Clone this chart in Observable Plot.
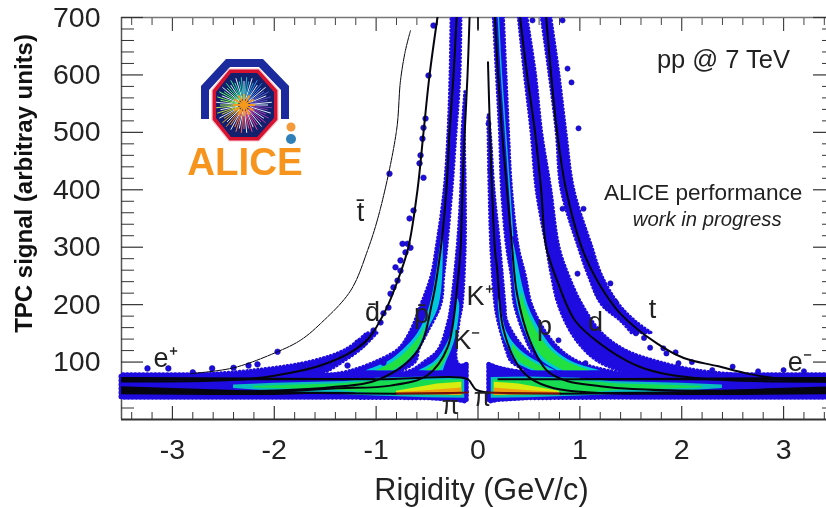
<!DOCTYPE html>
<html>
<head>
<meta charset="utf-8">
<script src="https://cdn.jsdelivr.net/npm/d3@7"></script>
<script src="https://cdn.jsdelivr.net/npm/@observablehq/plot@0.6"></script>
<style>
html,body{margin:0;padding:0;background:#fff;overflow:hidden;width:826px;height:508px}
svg{display:block;filter:blur(0.35px)}
</style>
</head>
<body>
<div id="chart"></div>
<script>
// Bands: [signal, inner rigidity, outer rigidity]
const protonBand = [[700,.155,.255],[600,.185,.28],[500,.215,.305],[400,.235,.335],[300,.285,.40],[250,.33,.47],[200,.36,.53],[150,.45,.675],[120,.525,.82],[100,.625,.99],[85,.75,1.28],[76,.9,1.7]];
const kaonBand = [[530,.10,.105],[500,.103,.125],[400,.113,.162],[300,.13,.22],[200,.17,.27],[170,.20,.29],[120,.28,.475],[100,.33,.64],[85,.476,.85],[76,.6,1.1]];
const deuteronBand = [[700,.40,.485],[600,.46,.57],[500,.525,.63],[400,.575,.72],[300,.675,.80],[250,.725,.895],[200,.79,1.025],[150,.92,1.22],[120,1.05,1.455],[100,1.185,1.78],[85,1.38,2.17],[76,1.6,2.7]];
const tritonBand = [[700,.625,.72],[600,.703,.80],[500,.772,.868],[400,.82,.945],[300,.988,1.123],[250,1.087,1.22],[200,1.215,1.387],[170,1.41,1.553],[150,1.51,1.71]];
const antiProtonBand = [[700,-.26,-.162],[600,-.27,-.172],[500,-.29,-.21],[400,-.328,-.25],[300,-.405,-.30],[250,-.455,-.33],[200,-.555,-.36],[150,-.67,-.496],[122,-.78,-.575],[101,-.995,-.605],[85,-1.24,-.74],[76,-1.5,-.9]];
const kaonMinusBand = [[570,-.125,-.12],[500,-.152,-.128],[400,-.165,-.12],[300,-.20,-.12],[200,-.26,-.15],[170,-.29,-.18],[120,-.39,-.21],[100,-.525,-.20],[85,-.655,-.12],[76,-.9,-.11]];
const antiDeuteronWedge = [[150,-1.09,-.987],[122,-1.29,-1.144],[101,-1.634,-1.31],[85,-2.223,-1.458],[78,-2.72,-1.556]];

// Coloured cores of the near-vertical bands
const protonCyan = [[320,.325,.335],[300,.33,.36],[200,.385,.49],[150,.47,.63],[120,.55,.76],[100,.64,.93],[85,.78,1.2]];
const protonGreen = [[220,.43,.44],[200,.42,.46],[150,.50,.59],[120,.58,.72],[100,.69,.88],[85,.84,1.1]];
const kaonCyan = [[210,.20,.205],[200,.20,.22],[150,.24,.29],[120,.31,.42],[100,.37,.59],[85,.53,.76]];
const kaonGreen = [[130,.345,.35],[120,.34,.39],[100,.41,.54],[85,.57,.71]];
const antiProtonCyan = [[320,-.355,-.345],[300,-.37,-.34],[200,-.47,-.38],[150,-.59,-.51],[122,-.73,-.58],[101,-.88,-.67],[85,-1.1,-.79]];
const antiProtonGreen = [[165,-.52,-.515],[150,-.55,-.53],[122,-.68,-.60],[101,-.82,-.70],[85,-1.0,-.83]];
const kaonMinusCyan = [[210,-.20,-.195],[200,-.21,-.18],[150,-.26,-.21],[120,-.34,-.26],[100,-.43,-.31],[85,-.58,-.34]];
const kaonMinusGreen = [[130,-.295,-.29],[120,-.31,-.28],[100,-.39,-.33],[85,-.52,-.38]];

// Low-signal pile-up: [|rigidity|, lower signal, upper signal]
const pileBlue = [[.11,31,95],[.2,34,89],[.3,35,85],[.5,37,79],[1.5,38,77],[3.5,38,77]];
const pileCyan = [[.13,37,73],[.5,38,74],[1.0,41,72],[1.3,43,66],[2.0,49,63],[2.4,54,60]];
const pileGreen = [[.15,41,69],[.5,42,68],[1.0,45,67],[1.4,51,62],[2.2,55,58]];
const pileYellow = [[.16,43,65],[.4,44,62],[.8,46,49]];
const pileOrange = [[.16,42,55],[.5,43,50],[.8,45,47]];
const pileBlackLow = [[1.2,46,47],[2,42,48],[2.6,42,52],[3.5,43,57]];
const pileBlackHigh = [[1,69,71],[2,68,72],[3.5,66,73]];

// Fitted curves: [rigidity, signal]
const curveT = [[.669,700],[.718,600],[.777,500],[.865,400],[1.03,294],[1.2,233],[1.4,184],[1.76,132],[2.02,107],[2.35,93],[2.67,79],[3.07,69],[3.5,66]];
const curveD = [[.413,700],[.482,600],[.56,500],[.62,400],[.669,301],[.777,242],[.954,172],[1.2,132],[1.52,97],[1.79,81],[2.38,69],[3.5,66]];
const curveP = [[.167,700],[.197,600],[.236,500],[.285,400],[.334,301],[.383,219],[.511,137],[.678,85],[.875,67],[1.2,58],[1.52,53],[2.18,50],[3.5,52]];
const curveK = [[.098,622],[.118,500],[.138,400],[.167,294],[.187,264],[.246,160],[.383,97],[.511,72],[.737,55],[1.2,46],[2.2,46]];
const curveAntiD = [[-.398,700],[-.476,599],[-.535,500],[-.594,400],[-.682,301],[-.78,246],[-.908,190],[-1.075,141],[-1.25,117],[-1.546,94],[-1.74,85],[-2.23,71],[-3.5,66]];
const curveAntiP = [[-.21,700],[-.24,600],[-.28,500],[-.31,400],[-.368,294],[-.447,207],[-.594,120],[-.957,71],[-1.448,56],[-2.33,49],[-3.5,52]];
const curveKMinus = [[-.083,700],[-.103,599],[-.133,491],[-.152,400],[-.172,294],[-.201,237],[-.30,125],[-.496,77],[-.859,59],[-1.419,54],[-2.2,46]];
const curveAntiT = [[-.663,677],[-.712,643],[-.761,590],[-.80,503],[-.957,368],[-1.085,294],[-1.252,224],[-1.546,167],[-1.743,138],[-1.968,118],[-2.4,90],[-2.82,80]];
const curveElectronRight = [[.2,70],[1,70],[3.5,70]];
const curveElectronLeft = [[-3.5,70],[-1,70],[-.1,70],[-.06,61],[-.02,52],[.1,47]];
const curvePionCoreRight = [[.1,47],[.3,46],[.81,45]];
const curvePionCoreLeft = [[-.1,47],[-.3,46],[-.81,45]];
const curvePionOuterRight = [[.81,45],[2.18,47],[3.5,50]];
const curvePionOuterLeft = [[-.81,45],[-2.18,47],[-3.5,50]];
const kaonStub = [[.0,700],[.0,680]];
const protonCyanLine = [[.2,700],[.23,600],[.27,500],[.31,400],[.34,320]];

// Isolated track dots
const dotsAntiD = [[-.437,686],[-.486,599],[-.515,524],[-.535,508],[-.545,489],[-.564,460],[-.574,446],[-.535,421],[-.869,428],[-.633,364],[-.672,350],[-.741,306],[-.692,306],[-.712,291],[-.663,299],[-.761,277],[-.81,265],[-.761,259],[-.79,242],[-.83,230],[-.859,219],[-.879,195],[-.928,185],[-.957,169],[-1.026,155],[-1.075,141],[-1.183,134],[-1.252,115],[-1.33,108],[-1.428,99],[-1.546,94],[-1.644,91],[-1.723,91],[-1.968,118],[-2.165,96],[-2.253,94],[-1.743,94],[-1.379,111],[-1.124,132],[-.928,99],[-1.281,94],[-3.245,89],[-3.04,89],[-2.61,89],[-2.8,82],[-2.4,90]];
const dotsRight = [[.535,695],[.83,695],[.879,611],[.918,587],[.987,507],[.83,367],[1.036,367],[.79,138],[1.055,98],[1.968,98],[1.82,124],[1.94,117],[.977,254],[1.173,219],[1.30,237],[1.27,195],[1.69,125],[.103,515],[.123,433],[2.3,86],[2.75,84],[3.0,86],[3.2,84],[1.55,150],[1.63,142],[1.85,115],[2.1,100],[2.5,92],[1.1,280],[1.35,205]];

const xMajor = [-3,-2,-1,0,1,2,3];
const xMinor = d3.range(-34,35,2).map(d=>d/10).filter(d=>!Number.isInteger(d));
const yMajor = [100,200,300,400,500,600,700];
const yMinor = d3.range(20,700,20).filter(d=>d%100!==0);

const labels = [
  ["e⁺",-3.068,106,27],["e⁻",3.16,99,27],["t\u0304",-1.153,360,27],["d\u0304",-1.036,186,27],["p\u0304",-.555,183,27],
  ["K⁺",.02,214,27],["K⁻",-.11,138,27],["π",-.27,24,25],["π",.044,38,25],["p",.653,162,27],["d",1.153,169,27],["t",1.713,191,27]
];

const BLUE="#1d0be0", DARK="#14109e";
const font="'Liberation Sans',Arial,sans-serif";

function band(rows,fill,beaded){
  return Plot.areaX(rows,{y:r=>r[0],x1:r=>r[1],x2:r=>r[2],curve:"catmull-rom",fill,clip:true,
    ...(beaded?{stroke:BLUE,strokeWidth:3,strokeDasharray:"0.5 3.2",strokeLinecap:"round"}:{})});
}
function pile(rows,fill,sign,beaded){
  return Plot.areaY(rows,{x:r=>sign*r[0],y1:r=>r[1],y2:r=>r[2],fill,
    ...(beaded?{stroke:BLUE,strokeWidth:5,strokeDasharray:"0.5 3.5",strokeLinecap:"round"}:{})});
}
function curve(rows,sw,opts={}){
  return Plot.line(rows,{x:r=>r[0],y:r=>r[1],curve:"catmull-rom",stroke:"#050510",strokeWidth:sw,clip:true,...opts});
}
function logo(){
  const g=d3.create("svg:g");
  g.append("path").attr("fill","#1b2a9c").attr("d","M201 119V86L226 59H263L289 86V119H281V90L259 67H230L209 90V119Z");
  g.append("polygon").attr("points","229,69 259,69 278,90 278,120 259,141 229,141 212,120 212,90").attr("fill","#d8112e").attr("stroke","#f7c6d0").attr("stroke-width","1.2");
  g.append("polygon").attr("points","231,73 257,73 274,92 274,118 257,137 231,137 216,118 216,92").attr("fill","#12206e");
  const color=d3.scaleSequential(d3.interpolateRainbow).domain([0,64]);
  d3.range(64).forEach(i=>{
    const a=i/64*2*Math.PI, r=(i%2?28:24);
    g.append("line").attr("x1",244+6*Math.cos(a)).attr("y1",105+6*Math.sin(a)).attr("x2",244+r*Math.cos(a)).attr("y2",105+r*Math.sin(a))
     .attr("stroke",i%3?color(i):"#dfe8f5").attr("stroke-width",1);
  });
  d3.range(12).forEach(i=>{
    const a=i/12*2*Math.PI;
    g.append("line").attr("x1",244).attr("y1",105).attr("x2",244+11*Math.cos(a)).attr("y2",105+11*Math.sin(a)).attr("stroke","#f59a1d").attr("stroke-width",2);
  });
  g.append("circle").attr("cx",291).attr("cy",127).attr("r",4.5).attr("fill","#f59a3a");
  g.append("circle").attr("cx",291).attr("cy",139).attr("r",5).attr("fill","#2f7fb8");
  g.append("text").attr("x",245).attr("y",175).attr("text-anchor","middle").attr("font-family",font).attr("font-weight","bold").attr("font-size",38.5).attr("fill","#f7941d").text("ALICE");
  return g.node();
}

const plot = Plot.plot({
  width:826,height:508,
  marginLeft:121,marginTop:17,marginBottom:89,marginRight:0,
  style:{fontFamily:font,color:"#222",background:"#fff"},
  x:{domain:[-3.5,3.5],range:[121,834],label:null,axis:null},
  y:{domain:[0,700],label:null,axis:null},
  marks:[
    // frame
    Plot.ruleX([-3.5],{stroke:"#555",strokeWidth:1.5}),
    Plot.ruleY([0],{stroke:"#333",strokeWidth:2}),
    Plot.ruleY([700],{stroke:"#777",strokeWidth:1.5}),
    // ticks
    Plot.axisX({anchor:"bottom",ticks:xMajor,tickSize:-13,text:null,stroke:"#333",strokeWidth:1.2,label:null}),
    Plot.axisX({anchor:"bottom",ticks:xMinor,tickSize:-7,text:null,stroke:"#333",label:null}),
    Plot.axisX({anchor:"top",ticks:xMajor,tickSize:-13,text:null,stroke:"#444",strokeWidth:1.2,label:null}),
    Plot.axisX({anchor:"top",ticks:xMinor,tickSize:-7,text:null,stroke:"#444",label:null}),
    Plot.axisY({anchor:"left",ticks:yMajor,tickSize:-22,text:null,stroke:"#333",strokeWidth:1.2,label:null}),
    Plot.axisY({anchor:"left",ticks:yMinor,tickSize:-13,text:null,stroke:"#333",label:null}),
    Plot.axisY({anchor:"right",ticks:yMajor,tickSize:-22,text:null,stroke:"#333",strokeWidth:1.2,label:null,dx:8}),
    Plot.axisY({anchor:"right",ticks:yMinor,tickSize:-13,text:null,stroke:"#333",label:null,dx:8}),
    // tick labels
    Plot.text(xMajor,{x:d=>d,y:-53,text:d=>String(d),fontSize:28.5,fill:"#222"}),
    Plot.text(yMajor,{x:-3.5,y:d=>d,text:d=>String(d),fontSize:28.5,fill:"#222",textAnchor:"end",dx:-21}),
    // axis titles
    Plot.text(["Rigidity (GeV/c)"],{x:.034,y:-123,text:d=>d,fontSize:30.6,fill:"#222"}),
    Plot.text(["TPC signal (arbitray units)"],{x:-4.45,y:411,text:d=>d,fontSize:24,fontWeight:"bold",rotate:-90,fill:"#111"}),
    // bands
    band(antiDeuteronWedge,BLUE,true),
    band(protonBand,BLUE,true),band(kaonBand,BLUE,true),band(deuteronBand,BLUE,true),band(tritonBand,BLUE,true),
    band(antiProtonBand,BLUE,true),band(kaonMinusBand,BLUE,true),
    pile(pileBlue,BLUE,1,true),pile(pileBlue,BLUE,-1,true),
    band(protonCyan,"#00c8d8"),band(kaonCyan,"#00c8d8"),band(antiProtonCyan,"#00c8d8"),band(kaonMinusCyan,"#00c8d8"),
    band(protonGreen,"#22e040"),band(kaonGreen,"#22e040"),band(antiProtonGreen,"#22e040"),band(kaonMinusGreen,"#22e040"),
    pile(pileCyan,"#08bcc0",1),pile(pileCyan,"#08bcc0",-1),
    pile(pileGreen,"#18dc50",1),pile(pileGreen,"#18dc50",-1),
    pile(pileYellow,"#d8ec10",1),pile(pileYellow,"#d8ec10",-1),
    pile(pileOrange,"#f2a010",1),pile(pileOrange,"#f2a010",-1),
    pile(pileBlackLow,"#050510",1),pile(pileBlackLow,"#050510",-1),
    pile(pileBlackHigh,"#050510",1),pile(pileBlackHigh,"#050510",-1),
    // stray tracks
    Plot.dot(dotsAntiD,{x:d=>d[0],y:d=>d[1],r:2.8,fill:BLUE,stroke:DARK,strokeWidth:.6,clip:true}),
    Plot.dot(dotsRight,{x:d=>d[0],y:d=>d[1],r:2.6,fill:BLUE,stroke:DARK,strokeWidth:.6,clip:true}),
    // curves
    curve(protonCyanLine,1.5,{stroke:"#14b8d8"}),
    curve(curveT,2),curve(curveD,2),curve(curveP,2),curve(curveK,2),
    curve(curveAntiD,2),curve(curveAntiP,2),curve(curveKMinus,2),
    curve(curveAntiT,1,{strokeDasharray:"7 1"}),
    curve(kaonStub,1.5),
    curve(curveElectronRight,2),curve(curveElectronLeft,2),
    curve(curvePionCoreRight,2.2,{stroke:"#7a0c0c"}),curve(curvePionCoreLeft,2.2,{stroke:"#7a0c0c"}),
    curve(curvePionOuterRight,2),curve(curvePionOuterLeft,2),
    // annotations
    Plot.text(labels,{x:d=>d[1],y:d=>d[2],text:d=>d[0],fontSize:d=>d[3],fill:"#222"}),
    Plot.text(["pp @ 7 TeV"],{x:2.41,y:626,text:d=>d,fontSize:25.5,fill:"#222"}),
    Plot.text(["ALICE performance"],{x:2.21,y:394,text:d=>d,fontSize:22.6,fill:"#222"}),
    Plot.text(["work in progress"],{x:2.25,y:348,text:d=>d,fontSize:20.3,fontStyle:"italic",fill:"#222"}),
    logo
  ]
});
document.getElementById("chart").appendChild(plot);
</script>
</body>
</html>
